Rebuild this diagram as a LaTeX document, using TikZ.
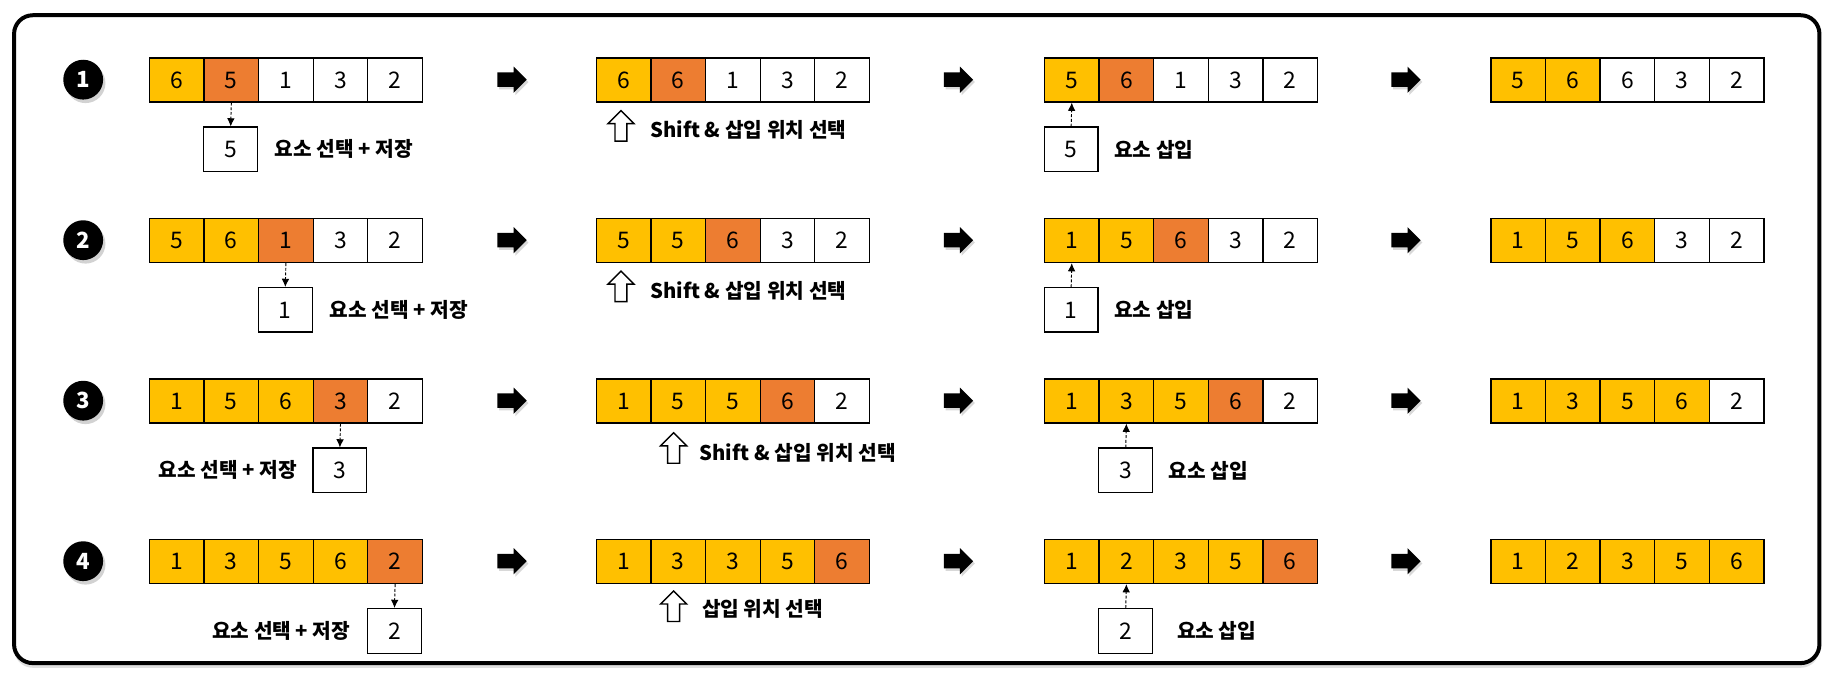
\documentclass[tikz,border=0pt]{standalone}
\usepackage{fontspec}
\setmainfont{Noto Sans CJK KR}
\usetikzlibrary{arrows.meta,shadows,shapes.arrows,positioning}
\definecolor{cy}{HTML}{FFC000}
\definecolor{co}{HTML}{ED7D31}
\tikzset{
  cell/.style={draw=black, line width=1.1pt, minimum width=46.6pt, minimum height=37.5pt,
    inner sep=0pt, anchor=north west, font=\fontsize{19.5}{19.5}\selectfont},
  valbox/.style={draw=black, line width=1.1pt, fill=white, minimum width=46pt, minimum height=38pt,
    inner sep=0pt, font=\fontsize{19.5}{19.5}\selectfont},
  lbl/.style={inner sep=0pt, font=\bfseries\fontsize{17.3}{17.3}\selectfont},
  stepnum/.style={circle, fill=black, minimum size=34pt, inner sep=0pt, text=white,
    font=\bfseries\fontsize{19}{19}\selectfont,
    drop shadow={opacity=0.35, shadow xshift=2pt, shadow yshift=-3pt}},
  blkarrow/.style={single arrow, fill=black, minimum height=25pt, inner sep=6pt,
    single arrow head extend=5pt,
    drop shadow={opacity=0.3, shadow xshift=1.5pt, shadow yshift=-2pt}},
  hollowup/.style={single arrow, draw=black, fill=white, line width=1.2pt, shape border rotate=90,
    minimum height=26pt, inner sep=4.5pt, single arrow head extend=6pt},
  dasharr/.style={line width=0.8pt, dash pattern=on 2.5pt off 1.5pt,
    -{Latex[length=7pt,width=6.5pt]}},
  frame/.style={line width=3.4pt, rounded corners=16pt, fill=white,
    drop shadow={opacity=0.25, shadow xshift=0pt, shadow yshift=-4pt}}
}
\newcommand\drawarr[4]{%
  \foreach \v/\c [count=\i] in {#4} {
    \node[cell, fill=\c] (#1-\i) at ({#2+(\i-1)*46.6},#3) {\v};
  }%
}
\begin{document}
\begin{tikzpicture}[x=1pt,y=-1pt]
\useasboundingbox (0,0) rectangle (1568,580);
\fill[white] (0,0) rectangle (1568,580);
\draw[frame] (12,13) rectangle (1553,566);

% step numbers
\node[stepnum] (s1) at (71,68) {1};
\node[stepnum] (s2) at (71,205) {2};
\node[stepnum] (s3) at (71,342) {3};
\node[stepnum] (s4) at (71,479) {4};

% row 1
\drawarr{r1a}{127}{49}{6/cy,5/co,1/white,3/white,2/white}
\drawarr{r1b}{508.5}{49}{6/cy,6/co,1/white,3/white,2/white}
\drawarr{r1c}{891}{49}{5/cy,6/co,1/white,3/white,2/white}
\drawarr{r1d}{1272}{49}{5/cy,6/cy,6/white,3/white,2/white}
% row 2
\drawarr{r2a}{127}{186}{5/cy,6/cy,1/co,3/white,2/white}
\drawarr{r2b}{508.5}{186}{5/cy,5/cy,6/co,3/white,2/white}
\drawarr{r2c}{891}{186}{1/cy,5/cy,6/co,3/white,2/white}
\drawarr{r2d}{1272}{186}{1/cy,5/cy,6/cy,3/white,2/white}
% row 3
\drawarr{r3a}{127}{323}{1/cy,5/cy,6/cy,3/co,2/white}
\drawarr{r3b}{508.5}{323}{1/cy,5/cy,5/cy,6/co,2/white}
\drawarr{r3c}{891}{323}{1/cy,3/cy,5/cy,6/co,2/white}
\drawarr{r3d}{1272}{323}{1/cy,3/cy,5/cy,6/cy,2/white}
% row 4
\drawarr{r4a}{127}{460}{1/cy,3/cy,5/cy,6/cy,2/co}
\drawarr{r4b}{508.5}{460}{1/cy,3/cy,3/cy,5/cy,6/co}
\drawarr{r4c}{891}{460}{1/cy,2/cy,3/cy,5/cy,6/co}
\drawarr{r4d}{1272}{460}{1/cy,2/cy,3/cy,5/cy,6/cy}

% black arrows
\foreach \r/\y in {1/68,2/205,3/342,4/479} {
  \node[blkarrow] (ka\r) at (434,\y) {};
  \node[blkarrow] (kb\r) at (815,\y) {};
  \node[blkarrow] (kc\r) at (1197,\y) {};
}

% column 1: select + store
\node[valbox] (b1a) at (196.9,127.5) {5};
\node[valbox] (b2a) at (243.5,264.5) {1};
\node[valbox] (b3a) at (290.1,401.5) {3};
\node[valbox] (b4a) at (336.7,538.5) {2};
\draw[dasharr] (r1a-2.south) -- (b1a.north);
\draw[dasharr] (r2a-3.south) -- (b2a.north);
\draw[dasharr] (r3a-4.south) -- (b3a.north);
\draw[dasharr] (r4a-5.south) -- (b4a.north);
\node[lbl, anchor=west] (l1a) at ([xshift=14pt]b1a.east) {요소 선택 + 저장};
\node[lbl, anchor=west] (l2a) at ([xshift=14pt]b2a.east) {요소 선택 + 저장};
\node[lbl, anchor=east] (l3a) at ([xshift=-13pt]b3a.west) {요소 선택 + 저장};
\node[lbl, anchor=east] (l4a) at ([xshift=-14pt]b4a.west) {요소 선택 + 저장};

% column 2: shift
\node[hollowup] (u1) at (530,110) {};
\node[hollowup] (u2) at (530,247) {};
\node[hollowup] (u3) at (575,385) {};
\node[hollowup] (u4) at (575,520) {};
\node[lbl, anchor=west] (l1b) at (555,111) {Shift \& 삽입 위치 선택};
\node[lbl, anchor=west] (l2b) at (555,248) {Shift \& 삽입 위치 선택};
\node[lbl, anchor=west] (l3b) at (597,387) {Shift \& 삽입 위치 선택};
\node[lbl, anchor=west] (l4b) at (599,520) {삽입 위치 선택};

% column 3: insert
\node[valbox] (b1c) at (914.3,127.5) {5};
\node[valbox] (b2c) at (914.3,264.5) {1};
\node[valbox] (b3c) at (960.9,401.5) {3};
\node[valbox] (b4c) at (960.9,538.5) {2};
\draw[dasharr] (b1c.north) -- (r1c-1.south);
\draw[dasharr] (b2c.north) -- (r2c-1.south);
\draw[dasharr] (b3c.north) -- (r3c-2.south);
\draw[dasharr] (b4c.north) -- (r4c-2.south);
\node[lbl, anchor=west] (l1c) at ([xshift=13pt]b1c.east) {요소 삽입};
\node[lbl, anchor=west] (l2c) at ([xshift=13pt]b2c.east) {요소 삽입};
\node[lbl, anchor=west] (l3c) at ([xshift=13pt]b3c.east) {요소 삽입};
\node[lbl, anchor=west] (l4c) at ([xshift=20pt]b4c.east) {요소 삽입};
\end{tikzpicture}
\end{document}
